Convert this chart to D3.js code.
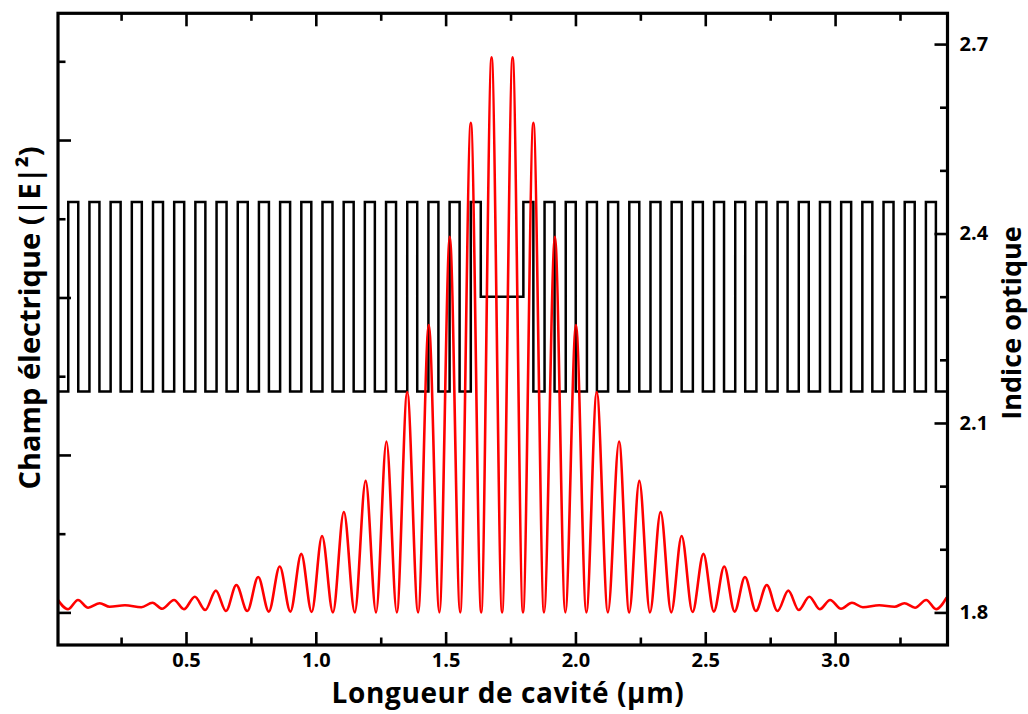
<!DOCTYPE html>
<html>
<head>
<meta charset="utf-8">
<script src="https://cdn.jsdelivr.net/npm/d3@7"></script>
<style>
  body { margin: 0; background: #fff; }
  svg text { font-family: "Open Sans", sans-serif; font-weight: bold; fill: #000; }
</style>
</head>
<body>
<svg id="chart" width="1028" height="714"></svg>
<script>
// bottom axis, cavity length in µm
const xMajor = [0.5, 1.0, 1.5, 2.0, 2.5, 3.0];
const xMinor = [0.25, 0.75, 1.25, 1.75, 2.25, 2.75, 3.25];
// right axis, optical index
const indexMajor = [1.8, 2.1, 2.4, 2.7];
const indexMinor = [1.9, 2.0, 2.2, 2.3, 2.5, 2.6];
// left axis, |E|^2 (no labels on the original)
const fieldMajor = [0, 2, 4, 6];
const fieldMinor = [1, 3, 5, 7];

// layer stack: outer layer, 19.5 pairs, lambda cavity, 20 pairs
const stack = "L" + "HL".repeat(19) + "H" + "C" + "HL".repeat(20);
const layerN = { L: 2.15, H: 2.45, C: 2.30 };
const layerD = { L: 0.0431, H: 0.0385, C: 0.164 };
const firstLayerD = 0.0465;

// |E|^2 maxima / minima (µm, a.u.)
const fieldPos = [
  0.000, 0.046, 0.084, 0.123, 0.168, 0.206, 0.265, 0.328, 0.371, 0.408,
  0.454, 0.492, 0.534, 0.574, 0.615, 0.654, 0.694, 0.736, 0.778, 0.819,
  0.861, 0.902, 0.944, 0.984, 1.024, 1.066, 1.108, 1.150, 1.192, 1.232,
  1.272, 1.312, 1.352, 1.394, 1.435, 1.476, 1.516, 1.556, 1.597, 1.637,
  1.677, 1.7175, 1.758, 1.798, 1.838, 1.879, 1.921, 1.961, 2.002, 2.042,
  2.082, 2.125, 2.168, 2.207, 2.246, 2.287, 2.328, 2.369, 2.409, 2.451,
  2.493, 2.533, 2.573, 2.613, 2.653, 2.695, 2.737, 2.778, 2.820, 2.860,
  2.901, 2.941, 2.981, 3.023, 3.065, 3.107, 3.170, 3.229, 3.267, 3.308,
  3.351, 3.389, 3.430
];
const fieldVal = [
  0.19, 0.04, 0.158, 0.06, 0.116, 0.072, 0.09, 0.065, 0.123, 0.047,
  0.158, 0.04, 0.199, 0.03, 0.276, 0.018, 0.348, 0.018, 0.45, 0.01,
  0.583, 0.01, 0.744, 0.005, 0.97, 0, 1.275, 0, 1.67, 0,
  2.17, 0, 2.80, 0, 3.65, 0, 4.77, 0, 6.22, 0,
  7.05, 0, 7.05, 0, 6.22, 0, 4.77, 0, 3.65, 0,
  2.80, 0, 2.17, 0, 1.67, 0, 1.275, 0, 0.97, 0.005,
  0.744, 0.01, 0.583, 0.01, 0.45, 0.018, 0.348, 0.018, 0.276, 0.03,
  0.199, 0.04, 0.158, 0.047, 0.123, 0.065, 0.09, 0.072, 0.116, 0.06,
  0.158, 0.04, 0.19
];

const mLeft = 58, mRight = 947.5, mTop = 13.3, mBottom = 645;

const svg = d3.select('#chart');

const x = d3.scaleLinear().domain([0.007, 3.433]).range([mLeft, mRight]);
const yIndex = d3.scaleLinear().domain([1.75, 2.75]).range([644, 12.5]);
const yField = d3.scaleLinear().domain([0, 7]).range([612.4, 61.3]);

svg.append('defs').append('clipPath').attr('id', 'plot')
  .append('rect')
  .attr('x', mLeft).attr('y', mTop)
  .attr('width', mRight - mLeft).attr('height', mBottom - mTop);

// index profile as a step line
let pos = 0;
const profile = [];
stack.split('').forEach((t, i) => {
  profile.push({ x: pos, n: layerN[t] });
  pos += i === 0 ? firstLayerD : layerD[t];
});
profile.push({ x: pos, n: layerN[stack[stack.length - 1]] });

const stepLine = d3.line()
  .x(d => x(d.x))
  .y(d => yIndex(d.n))
  .curve(d3.curveStepAfter);

const plot = svg.append('g').attr('clip-path', 'url(#plot)');

plot.append('path')
  .datum(profile)
  .attr('fill', 'none')
  .attr('stroke', '#000')
  .attr('stroke-width', 2.5)
  .attr('d', stepLine);

const field = fieldPos.map((p, i) => ({ x: p, v: fieldVal[i] }));

const fieldLine = d3.line()
  .x(d => x(d.x))
  .y(d => yField(d.v))
  .curve(d3.curveMonotoneX);

plot.append('path')
  .datum(field)
  .attr('fill', 'none')
  .attr('stroke', '#ff0000')
  .attr('stroke-width', 2.6)
  .attr('d', fieldLine);

// axes, ticks pointing inwards
const majorLen = 13, minorLen = 7.5;

function styleAxis(g) {
  g.select('.domain').remove();
  g.selectAll('line').attr('stroke', '#000').attr('stroke-width', 2.6);
  g.selectAll('text').attr('font-size', 20);
}

svg.append('g')
  .attr('transform', `translate(0,${mBottom})`)
  .call(d3.axisBottom(x).tickValues(xMajor).tickSize(-majorLen).tickPadding(8)
    .tickFormat(d3.format('.1f')))
  .call(styleAxis);
svg.append('g')
  .attr('transform', `translate(0,${mBottom})`)
  .call(d3.axisBottom(x).tickValues(xMinor).tickSize(-minorLen).tickFormat(''))
  .call(styleAxis);

svg.append('g')
  .attr('transform', `translate(0,${mTop})`)
  .call(d3.axisTop(x).tickValues(xMajor).tickSize(-majorLen).tickFormat(''))
  .call(styleAxis);
svg.append('g')
  .attr('transform', `translate(0,${mTop})`)
  .call(d3.axisTop(x).tickValues(xMinor).tickSize(-minorLen).tickFormat(''))
  .call(styleAxis);

svg.append('g')
  .attr('transform', `translate(${mLeft},0)`)
  .call(d3.axisLeft(yField).tickValues(fieldMajor).tickSize(-majorLen).tickFormat(''))
  .call(styleAxis);
svg.append('g')
  .attr('transform', `translate(${mLeft},0)`)
  .call(d3.axisLeft(yField).tickValues(fieldMinor).tickSize(-minorLen).tickFormat(''))
  .call(styleAxis);

svg.append('g')
  .attr('transform', `translate(${mRight},0)`)
  .call(d3.axisRight(yIndex).tickValues(indexMajor).tickSize(-majorLen).tickPadding(12)
    .tickFormat(d3.format('.1f')))
  .call(styleAxis);
svg.append('g')
  .attr('transform', `translate(${mRight},0)`)
  .call(d3.axisRight(yIndex).tickValues(indexMinor).tickSize(-minorLen).tickFormat(''))
  .call(styleAxis);

// frame
svg.append('rect')
  .attr('x', mLeft).attr('y', mTop)
  .attr('width', mRight - mLeft).attr('height', mBottom - mTop)
  .attr('fill', 'none')
  .attr('stroke', '#000')
  .attr('stroke-width', 3.2);

// axis titles
svg.append('text')
  .attr('x', 508).attr('y', 703)
  .attr('text-anchor', 'middle')
  .attr('font-size', 28)
  .attr('letter-spacing', 0.6)
  .text('Longueur de cavité (µm)');

svg.append('text')
  .attr('transform', 'translate(40,318) rotate(-90)')
  .attr('text-anchor', 'middle')
  .attr('font-size', 29)
  .text('Champ électrique (|E|²)');

svg.append('text')
  .attr('transform', 'translate(1021,323) rotate(-90)')
  .attr('text-anchor', 'middle')
  .attr('font-size', 27)
  .text('Indice optique');
</script>
</body>
</html>
